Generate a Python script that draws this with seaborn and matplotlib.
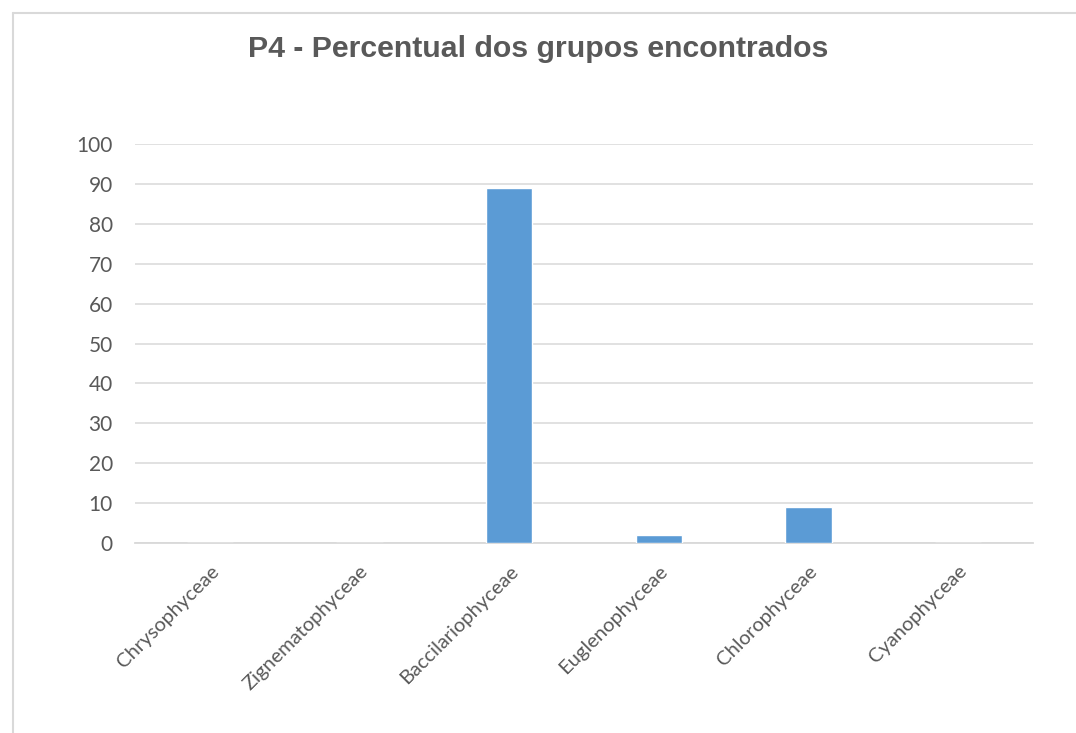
import pandas as pd
import matplotlib.pyplot as plt
import seaborn as sns
from matplotlib.lines import Line2D

sns.set_style("white")
plt.rcParams["font.family"] = ["Lato", "DejaVu Sans"]

# data
groups = ["Chrysophyceae", "Zignematophyceae", "Baccilariophyceae",
          "Euglenophyceae", "Chlorophyceae", "Cyanophyceae"]
percent = [0, 0, 88.9, 2.0, 9.1, 0]
y_ticks = list(range(0, 101, 10))

df = pd.DataFrame({"Grupo": groups, "Percentual": percent})

TXT = "#595959"
GRID = "#d9d9d9"
BAR = "#5b9bd5"

fig = plt.figure(figsize=(10.76, 7.33), dpi=100)
ax = fig.add_axes([0.1255, 0.2592, 0.8346, 0.5443])

sns.barplot(data=df, x="Grupo", y="Percentual", color=BAR, width=0.31,
            saturation=1, ax=ax, zorder=3)

ax.set_ylim(0, 100)
ax.set_xlim(-0.5, len(groups) - 0.5)
ax.set_yticks(y_ticks)
ax.yaxis.grid(True, color=GRID, linewidth=1.1, zorder=0)
ax.set_axisbelow(True)
for s in ["top", "right", "left"]:
    ax.spines[s].set_visible(False)
ax.spines["bottom"].set_color(GRID)
ax.spines["bottom"].set_linewidth(1.3)
ax.tick_params(axis="both", length=0, colors=TXT, labelsize=14.5)
ax.tick_params(axis="y", labelsize=15, pad=16)
ax.tick_params(axis="x", pad=14)
ax.set_xlabel(""); ax.set_ylabel("")
plt.setp(ax.get_xticklabels(), rotation=45, ha="right", rotation_mode="anchor")

fig.text(0.5, 1 - 49 / 733, "P4 - Percentual dos grupos encontrados",
         ha="center", va="center", fontsize=21.8, fontweight="bold", color=TXT,
         family=["Liberation Sans", "DejaVu Sans"])

# chart area border (top and left edges visible in the crop)
y0 = 1 - 13 / 733
x0 = 13 / 1076
fig.add_artist(Line2D([x0, 1], [y0, y0], color=GRID, linewidth=1.5, transform=fig.transFigure))
fig.add_artist(Line2D([x0, x0], [0, y0], color=GRID, linewidth=1.5, transform=fig.transFigure))

fig.savefig("out.png", dpi=100, facecolor="white")
